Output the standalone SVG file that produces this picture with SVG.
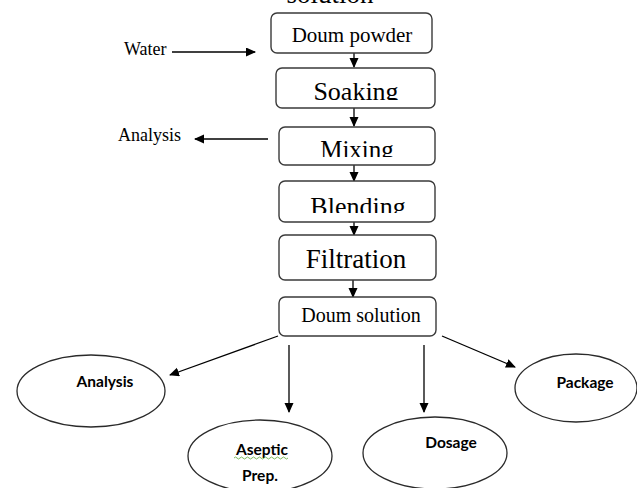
<svg xmlns="http://www.w3.org/2000/svg" width="637" height="488" viewBox="0 0 637 488">
<style>
.box{fill:#fff;stroke:#3a3a3a;stroke-width:1.4}
.ell{fill:#fff;stroke:#2a2a2a;stroke-width:1.3}
.bt{font-family:"Liberation Serif","DejaVu Serif",serif;fill:#000;text-anchor:middle}
.lt{font-family:"Liberation Serif","DejaVu Serif",serif;fill:#000;font-size:18px}
.et{font-family:Lato,"Liberation Sans",sans-serif;font-weight:bold;font-size:15.5px;fill:#000;text-anchor:middle}
.c{stroke:#000;stroke-width:1.3;fill:none;marker-end:url(#ah)}
</style>
<defs>
<marker id="ah" markerUnits="userSpaceOnUse" markerWidth="10" markerHeight="10" refX="9" refY="4.5" orient="auto">
<path d="M0,0 L10,4.5 L0,9 Z" fill="#000"/>
</marker>
<clipPath id="cS"><rect x="270" y="60" width="170" height="40"/></clipPath>
<clipPath id="cM"><rect x="270" y="120" width="170" height="37"/></clipPath>
<clipPath id="cB"><rect x="270" y="175" width="170" height="38"/></clipPath>
<clipPath id="cTop"><rect x="0" y="0" width="637" height="3"/></clipPath>
</defs>
<text class="bt" x="330" y="3" font-size="27" clip-path="url(#cTop)">solution</text>
<g id="connectors">
<line class="c" x1="172" y1="52" x2="255" y2="52"/>
<line class="c" x1="268" y1="139" x2="195" y2="139"/>
<line class="c" x1="354" y1="53" x2="354" y2="67"/>
<line class="c" x1="354" y1="108" x2="354" y2="126"/>
<line class="c" x1="354" y1="165" x2="354" y2="181"/>
<line class="c" x1="354" y1="222" x2="354" y2="235"/>
<line class="c" x1="353" y1="280" x2="353" y2="297"/>
<line class="c" x1="278" y1="336" x2="170" y2="375"/>
<line class="c" x1="289" y1="345" x2="289" y2="412"/>
<line class="c" x1="424" y1="345" x2="424" y2="412"/>
<line class="c" x1="442" y1="336" x2="515" y2="367"/>
</g>
<g id="water"><text class="lt" x="124" y="55">Water</text></g>
<g id="analysis-top"><text class="lt" x="118" y="141">Analysis</text></g>
<g id="doum-powder"><rect class="box" x="271" y="13" width="161" height="40" rx="6"/><text class="bt" x="352" y="42" font-size="21">Doum powder</text></g>
<g id="soaking"><rect class="box" x="276" y="68" width="159" height="40" rx="6"/><text class="bt" x="356" y="100" font-size="26" clip-path="url(#cS)">Soaking</text></g>
<g id="mixing"><rect class="box" x="279" y="127" width="156" height="38" rx="6"/><text class="bt" x="357" y="158" font-size="25" clip-path="url(#cM)">Mixing</text></g>
<g id="blending"><rect class="box" x="279" y="181" width="156" height="41" rx="6"/><text class="bt" x="358" y="215" font-size="26" clip-path="url(#cB)">Blending</text></g>
<g id="filtration"><rect class="box" x="279" y="235" width="157" height="45" rx="6"/><text class="bt" x="356" y="268" font-size="27">Filtration</text></g>
<g id="doum-solution"><rect class="box" x="279" y="297" width="157" height="39" rx="6"/><text class="bt" x="361" y="322" font-size="20">Doum solution</text></g>
<g id="analysis"><ellipse class="ell" cx="91" cy="391" rx="74" ry="36"/><text class="et" x="105" y="387">Analysis</text></g>
<g id="aseptic"><ellipse class="ell" cx="260" cy="456" rx="72" ry="36"/><text class="et" x="262" y="455">Aseptic</text><path d="M234,458 q1.5,-2 3,0 t3,0 t3,0 t3,0 t3,0 t3,0 t3,0 t3,0 t3,0 t3,0 t3,0 t3,0 t3,0 t3,0 t3,0 t3,0 t3,0 t3,0" fill="none" stroke="#5aa832" stroke-width="0.8"/><text class="et" x="260" y="481">Prep.</text></g>
<g id="dosage"><ellipse class="ell" cx="435" cy="453" rx="72" ry="36"/><text class="et" x="451" y="448">Dosage</text></g>
<g id="package"><ellipse class="ell" cx="576" cy="388" rx="61" ry="34"/><text class="et" x="585" y="388">Package</text></g>
</svg>
